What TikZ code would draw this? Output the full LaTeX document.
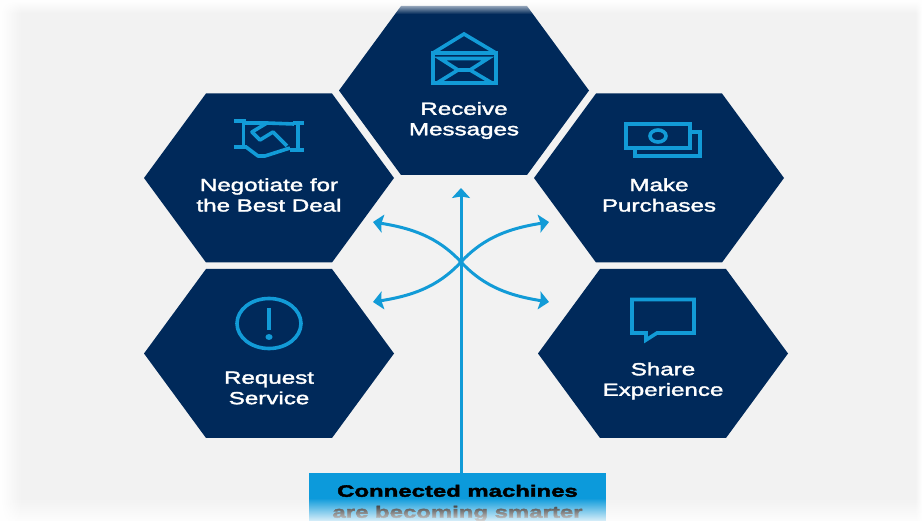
\documentclass[tikz,border=0pt]{standalone}
\usepackage{fontspec}
\setmainfont[FakeStretch=1.38,FakeBold=2]{Liberation Sans}
\newfontfamily\boxfont[FakeStretch=1.45,FakeBold=2.4]{Liberation Sans Bold}
\usetikzlibrary{arrows.meta,fadings}

\definecolor{paper}{RGB}{242,242,242}
\definecolor{navy}{RGB}{0,41,90}
\definecolor{iconblue}{RGB}{18,155,215}
\definecolor{boxblue}{RGB}{12,154,219}

\tikzset{
  hexlabel/.style={text=white,align=center,font=\fontsize{17.5}{20.5}\selectfont},
  icon/.style={draw=iconblue,line width=3.6pt,line join=miter},
  flow/.style={draw=iconblue,line width=3pt,-{Stealth[length=10pt,width=18pt,inset=1.5pt]}},
}
\newcommand{\hexcell}[1]{\fill[navy] (#1) ++(-125,0) -- ++(62,-84.5) -- ++(126,0) -- ++(62,84.5) -- ++(-62,84.5) -- ++(-126,0) -- cycle;}

\begin{document}
\begin{tikzpicture}[x=1pt,y=-1pt]
  \useasboundingbox (0,0) rectangle (922,521);
  % background
  \fill[paper] (0,0) rectangle (922,521);
  % hexagons
  \hexcell{464,90.5}
  \hexcell{269,178}
  \hexcell{659,178}
  \hexcell{269,353.5}
  \hexcell{663,353.5}
  % labels
  \node[hexlabel] at(464,120.5)(receive){Receive\\Messages};
  \node[hexlabel] at(269,195)(negotiate){Negotiate for\\the Best Deal};
  \node[hexlabel] at(659,195)(purchase){Make\\Purchases};
  \node[hexlabel] at(269,388)(request){Request\\Service};
  \node[hexlabel] at(663,381)(share){Share\\Experience};
  % envelope
  \draw[icon] (433,83) rectangle (496,53);
  \draw[icon] (433,53) -- (464,34) -- (496,53);
  \draw[icon] (440,58.5) -- (488,58.5) -- (470,70) -- (458,70) -- cycle;
  \draw[icon] (437,83) -- (458,70);
  \draw[icon] (492,83) -- (470,70);
  % handshake
  \draw[icon] (234,121) -- (246,121);
  \draw[icon] (234,147) -- (247,147);
  \draw[icon] (243.5,121) -- (243.5,147);
  \draw[icon] (293,123) -- (304,123);
  \draw[icon] (290,150) -- (304,150);
  \draw[icon] (298,123) -- (298,150);
  \draw[icon,line join=round] (246,147) -- (258,156) -- (265,156) -- (290,148);
  \draw[icon,line join=round] (245,123) -- (267,123) -- (294,124);
  \draw[icon,line join=round] (267,123) -- (252,132) -- (260,140) -- (273,132) -- (287,146);
  % bills
  \draw[icon] (626,124) rectangle (690,148);
  \draw[icon] (690,132) -- (700,132) -- (700,156) -- (635,156) -- (635,148);
  \draw[icon] (658,136) ellipse (8 and 6);
  % exclamation
  \draw[icon] (269,323.5) ellipse (32 and 25);
  \draw[icon] (269,308) -- (269,330);
  \fill[iconblue] (269,337) ellipse (3.5 and 3);
  % speech bubble
  \draw[icon] (646,333) -- (632,333) -- (632,299.5) -- (694,299.5) -- (694,333) -- (657,333) -- (646,340) -- cycle;
  % source box
  \node[fill=boxblue,minimum width=297pt,minimum height=48pt,inner sep=0pt] at(457.5,497)(machines){};
  \node[font=\boxfont\fontsize{16.5}{21}\selectfont,align=center,text=black] at(457.5,503)(machinestext){Connected machines\\are becoming smarter};
  % arrows
  \coordinate (hub) at(461,262);
  \coordinate (tipup) at(461,188);
  \coordinate (tipnw) at(373,222);
  \coordinate (tipne) at(549,222);
  \coordinate (tipsw) at(373,302);
  \coordinate (tipse) at(549,302);
  \draw[flow] (machines.north -| hub) -- (tipup);
  \draw[flow] (hub) .. controls (437,236) and (410,228) .. (tipnw);
  \draw[flow] (hub) .. controls (485,236) and (512,228) .. (tipne);
  \draw[flow] (hub) .. controls (437,288) and (410,296) .. (tipsw);
  \draw[flow] (hub) .. controls (485,288) and (512,296) .. (tipse);
  % soft edges
  \fill[white,path fading=south] (0,0) rectangle (922,14);
  \fill[white,opacity=.85,path fading=north] (0,498) rectangle (922,521);
  \fill[white,path fading=east] (0,0) rectangle (22,521);
  \fill[white,path fading=west] (915,0) rectangle (922,521);
\end{tikzpicture}
\end{document}
